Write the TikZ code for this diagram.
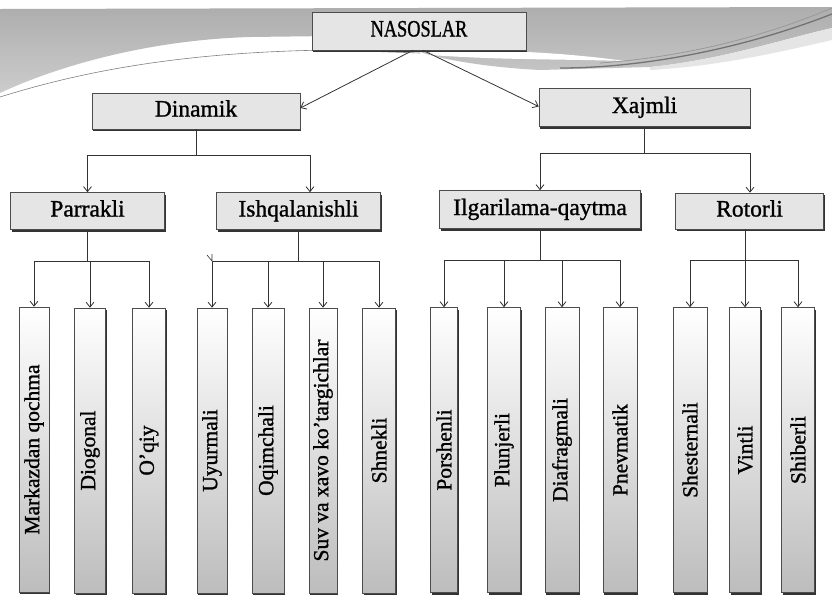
\documentclass[tikz,border=0pt]{standalone}
\usepackage{fontspec}
\newfontfamily\lblfont{Liberation Serif}[FakeBold=1.1]
\usetikzlibrary{arrows.meta,shadows,calc}
\begin{document}
\begin{tikzpicture}[x=1pt,y=-1pt,
  ln/.style={draw=black!80, line width=0.8pt},
  arr/.style={ln, -{Straight Barb[length=5pt,width=8pt,line width=0.8pt]}},
  hbox/.style={draw=black!70, line width=0.6pt, fill=black!10,
    drop shadow={shadow xshift=1.3pt, shadow yshift=-2.3pt, fill=black!80, opacity=1},
    font=\lblfont\fontsize{23.5}{27}\selectfont, inner sep=0pt, text height=16pt, text depth=5pt},
  vbox/.style={draw=black!70, line width=0.6pt, top color=white, middle color=white, bottom color=black!26,
    drop shadow={shadow xshift=1.3pt, shadow yshift=-2.3pt, fill=black!80, opacity=1},
    font=\lblfont\fontsize{21.5}{25}\selectfont, inner sep=0pt, minimum height=285pt}
]
\useasboundingbox (0,0) rectangle (832,598);
\fill[white] (0,0) rectangle (832,598);
% banner
\shade[top color=black!32, bottom color=black!20] (0,9) -- (832,7) -- (832,28)
  .. controls (780,40) and (720,60) .. (650,67) -- (540,70)
  .. controls (500,68) and (450,62) .. (420,52) -- (330,36) -- (250,37)
  .. controls (150,40) and (60,65) .. (0,93) -- cycle;
\fill[white] (430,50) .. controls (500,50) and (560,52) .. (625,61)
  .. controls (560,59) and (500,60) .. (430,55) -- cycle;
\fill[black!10] (650,67) .. controls (720,60) and (780,40) .. (832,28) -- (832,40)
  .. controls (780,52) and (720,66) .. (650,70) -- cycle;
\draw[black!55, line width=1.3pt] (560,68) .. controls (640,68) and (740,50) .. (832,14);
\draw[black!40, line width=0.8pt] (600,63) .. controls (700,56) and (780,30) .. (832,8);
\draw[black!50, line width=0.6pt] (0,97) .. controls (80,72) and (180,52) .. (330,50) -- (420,53);
% top level
\node[hbox, minimum width=214pt, minimum height=38pt] (n) at (419,31) {\scalebox{0.78}[1]{NASOSLAR}};
\node[hbox, minimum width=208pt, minimum height=36pt] (d) at (196,111) {Dinamik};
\node[hbox, minimum width=211pt, minimum height=38pt] (x) at (644.5,107.5) {Xajmli};
\node[hbox, minimum width=154pt, minimum height=37pt] (p) at (87.5,211) {Parrakli};
\node[hbox, minimum width=164pt, minimum height=37pt] (i) at (298.5,211) {Ishqalanishli};
\node[hbox, minimum width=201pt, minimum height=38pt] (il) at (540,209.5) {Ilgarilama-qaytma};
\node[hbox, minimum width=148pt, minimum height=36pt] (r) at (749.5,211) {Rotorli};
% bottom level
\node[vbox, minimum width=30pt] (v1) at (34,449.5) {\rotatebox{90}{Markazdan qochma}};
\node[vbox, minimum width=31pt] (v2) at (90,450.5) {\rotatebox{90}{Diogonal}};
\node[vbox, minimum width=33pt] (v3) at (149,450.5) {\rotatebox{90}{O’qiy}};
\node[vbox, minimum width=30pt] (v4) at (212,450.5) {\rotatebox{90}{Uyurmali}};
\node[vbox, minimum width=32pt] (v5) at (268,450.5) {\rotatebox{90}{Oqimchali}};
\node[vbox, minimum width=28pt] (v6) at (323,450.5) {\rotatebox{90}{Suv va xavo ko’targichlar}};
\node[vbox, minimum width=33pt] (v7) at (379,450.5) {\rotatebox{90}{Shnekli}};
\node[vbox, minimum width=27pt] (v8) at (444,450) {\rotatebox{90}{Porshenli}};
\node[vbox, minimum width=33pt] (v9) at (504,450) {\rotatebox{90}{Plunjerli}};
\node[vbox, minimum width=34pt] (v10) at (562,450) {\rotatebox{90}{Diafragmali}};
\node[vbox, minimum width=34pt] (v11) at (620,450) {\rotatebox{90}{Pnevmatik}};
\node[vbox, minimum width=34pt] (v12) at (690,450) {\rotatebox{90}{Shesternali}};
\node[vbox, minimum width=31pt] (v13) at (745,450) {\rotatebox{90}{Vintli}};
\node[vbox, minimum width=33pt] (v14) at (798,450) {\rotatebox{90}{Shiberli}};
% connectors from root
\draw[arr] ($(n.south)+(-6,0)$) -- ($(d.east)+(0,-3)$);
\draw[arr] ($(n.south)+(4,0)$) -- ($(x.west)+(0,-1)$);
% Dinamik bus
\coordinate (dL) at (87.5,155);
\coordinate (dR) at (310,155);
\draw[ln] (d.south) -- (d.south |- dL);
\draw[ln] (dL) -- (dR);
\draw[arr] (dL) -- (dL |- p.north);
\draw[arr] (dR) -- (dR |- i.north);
% Xajmli bus
\coordinate (xL) at (540,153);
\coordinate (xR) at (750,153);
\draw[ln] (x.south) -- (x.south |- xL);
\draw[ln] (xL) -- (xR);
\draw[arr] (xL) -- (xL |- il.north);
\draw[arr] (xR) -- (xR |- r.north);
% Parrakli bus
\coordinate (pb) at (87.5,261);
\draw[ln] (p.south) -- (pb);
\draw[ln] (v1.north |- pb) -- (v3.north |- pb);
\foreach \v in {v1,v2,v3} \draw[arr] (\v.north |- pb) -- (\v.north);
% Ishqalanishli bus
\coordinate (ib) at (298.5,261);
\draw[ln] (i.south) -- (ib);
\draw[ln] (v4.north |- ib) -- (v7.north |- ib);
\foreach \v in {v4,v5,v6,v7} \draw[arr] (\v.north |- ib) -- (\v.north);
\draw[ln, line width=0.6pt] ($(v4.north |- ib)+(-5,-6)$) -- (v4.north |- ib) -- ++(0,-7);
% Ilgarilama bus
\coordinate (gb) at (540,260);
\draw[ln] (il.south) -- (gb);
\draw[ln] (v8.north |- gb) -- (v11.north |- gb);
\foreach \v in {v8,v9,v10,v11} \draw[arr] (\v.north |- gb) -- (\v.north);
% Rotorli bus
\coordinate (rb) at (745,260);
\draw[ln] (rb |- r.south) -- (rb);
\draw[ln] (v12.north |- rb) -- (v14.north |- rb);
\foreach \v in {v12,v13,v14} \draw[arr] (\v.north |- rb) -- (\v.north);
\end{tikzpicture}
\end{document}
